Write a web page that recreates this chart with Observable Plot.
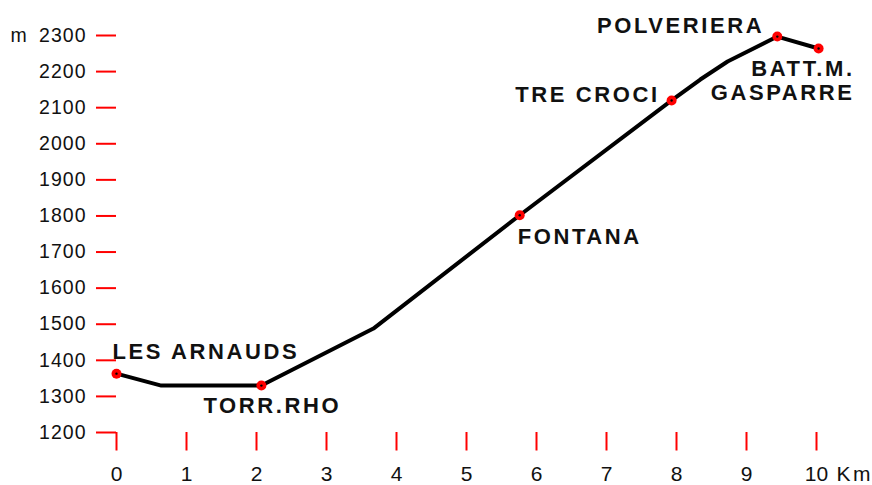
<!DOCTYPE html>
<html>
<head>
<meta charset="utf-8">
<script src="https://cdn.jsdelivr.net/npm/d3@7"></script>
<script src="https://cdn.jsdelivr.net/npm/@observablehq/plot@0.6"></script>
<style>
  html, body { margin: 0; padding: 0; background: #fff; }
  #chart svg { display: block; background: #fff; }
</style>
</head>
<body>
<div id="chart"></div>
<script>
// Profile vertices (km, metres)
const profileKm   = [0, 0.64, 2.07, 3.67, 5.76, 7.93, 8.34, 8.73, 9.44, 10.03];
const profileElev = [1363, 1330, 1330, 1488, 1802, 2120, 2178, 2228, 2297, 2264];

// Named waypoints
const placeNames = ["LES ARNAUDS", "TORR.RHO", "FONTANA", "TRE CROCI", "POLVERIERA", "BATT.M.\nGASPARRE"];
const placeKm    = [0, 2.07, 5.76, 7.93, 9.44, 10.03];
const placeElev  = [1363, 1330, 1802, 2120, 2297, 2264];

// Axis ticks
const yTicks = [1200, 1300, 1400, 1500, 1600, 1700, 1800, 1900, 2000, 2100, 2200, 2300];
const xTicks = [0, 1, 2, 3, 4, 5, 6, 7, 8, 9, 10];
const yUnit = "m";
const xUnit = "Km";

const profile = profileKm.map((k, i) => ({km: k, elev: profileElev[i]}));
const places = placeNames.map((n, i) => ({name: n, km: placeKm[i], elev: placeElev[i]}));

const labelFont = "'Liberation Sans', Arial, sans-serif";
const label = (i, opts) => Plot.text([places[i]], {
  x: "km", y: "elev", text: "name",
  fontSize: 22, fontWeight: "bold", fontFamily: labelFont, fill: "#111",
  lineAnchor: "middle", lineHeight: 1.1, ...opts
});

const chart = Plot.plot({
  width: 872,
  height: 485,
  marginLeft: 116,
  marginRight: 56,
  marginTop: 35,
  marginBottom: 53,
  style: {background: "#fff", fontFamily: labelFont},
  x: {domain: [0, 10]},
  y: {domain: [1200, 2300]},
  marks: [
    Plot.axisY({
      ticks: yTicks, tickSize: 20, tickPadding: 10,
      stroke: "#ff0000", strokeWidth: 2, fill: "#111",
      fontSize: 19.5, fontFamily: labelFont,
      tickFormat: d => String(d), label: null
    }),
    Plot.axisX({
      ticks: xTicks, tickSize: 18.5, tickPadding: 15,
      stroke: "#ff0000", strokeWidth: 2, fill: "#111",
      fontSize: 21, fontFamily: labelFont,
      tickFormat: d => String(d), label: null
    }),
    Plot.text([{km: 0, elev: 2300}], {
      x: "km", y: "elev", text: () => yUnit, dx: -106, textAnchor: "start",
      fontSize: 19.5, fontFamily: labelFont, fill: "#111"
    }),
    Plot.text([{km: 10, elev: 1200}], {
      x: "km", y: "elev", text: () => xUnit, dx: 20, dy: 33.5, textAnchor: "start",
      lineAnchor: "top", fontSize: 21, fontFamily: labelFont, fill: "#111"
    }),
    Plot.line(profile, {x: "km", y: "elev", stroke: "#000", strokeWidth: 4, strokeLinejoin: "round", strokeLinecap: "round"}),
    Plot.dot(places, {x: "km", y: "elev", r: 5, fill: "#ff0000", stroke: "none"}),
    Plot.dot(places, {x: "km", y: "elev", r: 1.2, fill: "#000", stroke: "none"}),
    label(0, {textAnchor: "start", dx: -4, dy: -22.5}),
    label(1, {textAnchor: "start", dx: -58, dy: 20}),
    label(2, {textAnchor: "start", dx: -2, dy: 21}),
    label(3, {textAnchor: "end", dx: -12, dy: -6.5}),
    label(4, {textAnchor: "end", dx: -13, dy: -11}),
    label(5, {textAnchor: "end", dx: 36, dy: 32})
  ]
});

// Letter spacing to match the wide lettering of the original
d3.select(chart).selectAll("g[aria-label='text'] text").attr("letter-spacing", "2.6px");
d3.select(chart).selectAll("g[aria-label='y-axis tick label'] text").attr("letter-spacing", "1px");

document.getElementById("chart").appendChild(chart);
</script>
</body>
</html>
